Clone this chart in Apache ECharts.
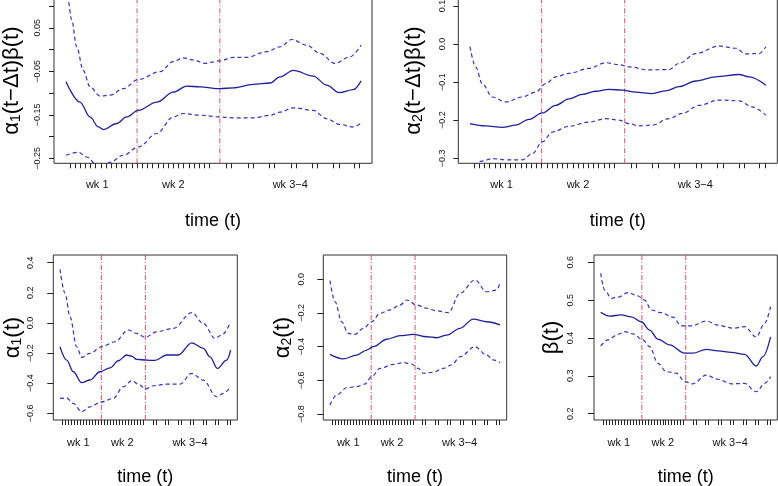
<!DOCTYPE html>
<html><head><meta charset="utf-8">
<script src="https://cdn.jsdelivr.net/npm/echarts@6/dist/echarts.min.js"></script>
<style>html,body{margin:0;padding:0;background:#fff}#c{width:778px;height:486px}</style>
</head><body><div id="c"></div>
<script>
// ---------- data ----------
// observation times (rug marks) on the time axis
const rugTimes = [0,1,2,3,4,5,6,7,8,9,10,11,12,13,14,15,16,17,18,19,20,21,22,23,24,25,26,27,
  30.2,31.2,34.4,35.4,38.6,39.6,42.7,43.7,46.9,47.9,51,52,55,56];
const weekPos = [5.3, 20, 42.6];
const weekText = ['wk 1', 'wk 2', 'wk 3−4'];
const breaksTop = [13, 29];
const breaksBottom = [13, 27.7];

// panel 1: alpha1(t - dt) beta(t)
const p1FitT = [-0.73,1.97,3.91,5.52,6.48,9.07,11.0,13.24,16.8,20.0,22.6,25.2,29.0,31.6,35.45,38.7,40.6,43.2,47.05,49.65,52.1,54.8,56.3];
const p1FitV = [-0.074,-0.121,-0.155,-0.178,-0.184,-0.170,-0.155,-0.140,-0.121,-0.098,-0.084,-0.086,-0.090,-0.088,-0.080,-0.077,-0.063,-0.048,-0.061,-0.082,-0.099,-0.092,-0.072];
const p1UpT = [-0.73,-0.3,0.37,1.34,2.6,3.91,5.84,7.77,10.34,13.24,17.43,20.0,21.9,23.9,26.13,29.0,31.6,34.2,38.05,40.6,42.9,45.8,48.35,51.25,54.1,56.3];
const p1UpV = [0.14,0.110,0.068,0.006,-0.048,-0.086,-0.107,-0.105,-0.090,-0.069,-0.051,-0.028,-0.019,-0.024,-0.032,-0.026,-0.018,-0.018,-0.005,0.006,0.023,0.010,-0.009,-0.032,-0.017,0.010];
const p1LoT = [-0.73,1.65,3.27,5.2,6.48,7.77,10.34,13.24,16.8,20.0,21.9,25.2,29.0,31.6,35.45,38.7,40.6,43.2,47.05,49.65,52.1,54.8,56.3];
const p1LoV = [-0.243,-0.236,-0.247,-0.265,-0.272,-0.259,-0.243,-0.224,-0.193,-0.155,-0.147,-0.151,-0.155,-0.157,-0.157,-0.151,-0.144,-0.134,-0.140,-0.159,-0.172,-0.178,-0.169];
const p1YTicks = [-0.25,-0.20,-0.15,-0.10,-0.05,0,0.05,0.10];
const p1YLabelVals = [-0.25,-0.15,-0.05,0.05];
const p1YLabelText = ['−0.25','−0.15','−0.05','0.05'];

// panel 2: alpha2(t - dt) beta(t)
const p2FitT = [-0.8,2.23,5.43,8.0,10.57,13.13,15.7,18.27,20.84,23.4,25.98,28.55,31.1,34.3,36.9,39.45,42.7,46.5,51.0,52.95,56.2];
const p2FitV = [-0.209,-0.215,-0.219,-0.213,-0.198,-0.181,-0.161,-0.144,-0.132,-0.124,-0.119,-0.121,-0.126,-0.130,-0.123,-0.112,-0.097,-0.086,-0.080,-0.086,-0.108];
const p2UpT = [-0.8,0.3,1.57,3.5,6.08,9.3,11.85,13.8,15.7,18.27,22.1,25.35,27.9,29.83,33.7,37.54,39.45,42.7,47.17,50.4,52.3,54.9,56.2];
const p2UpV = [-0.007,-0.060,-0.104,-0.139,-0.152,-0.139,-0.126,-0.104,-0.086,-0.077,-0.064,-0.049,-0.054,-0.060,-0.068,-0.067,-0.051,-0.025,-0.005,-0.011,-0.026,-0.025,-0.007];
const p2LoT = [-0.8,1.26,3.5,6.08,9.3,11.2,13.13,15.06,18.27,22.1,25.35,27.9,29.83,31.76,34.3,37.54,40.1,43.3,47.17,51.0,53.55,56.2];
const p2LoV = [-0.335,-0.308,-0.301,-0.304,-0.304,-0.288,-0.257,-0.231,-0.216,-0.205,-0.196,-0.200,-0.209,-0.215,-0.213,-0.196,-0.182,-0.161,-0.147,-0.149,-0.165,-0.187];
const p2YTicks = [-0.3,-0.2,-0.1,0,0.1];
const p2YLabelVals = [-0.3,-0.2,-0.1,0,0.1];
const p2YLabelText = ['−0.3','−0.2','−0.1','0.0','0.1'];

// panel 3: alpha1(t)
const p3FitT = [-0.81,1.42,3.63,6.43,9.2,12.55,15.9,18.66,21.47,23.1,24.8,28.15,30.9,34.8,38.7,43.2,47.05,49.3,51.7,54.85,56.2];
const p3FitV = [-0.158,-0.247,-0.324,-0.397,-0.379,-0.324,-0.298,-0.251,-0.213,-0.220,-0.242,-0.247,-0.249,-0.213,-0.213,-0.132,-0.169,-0.225,-0.302,-0.247,-0.180];
const p3UpT = [-0.81,0.86,2.53,4.76,6.43,9.2,13.1,17.55,22.0,24.8,27.6,31.5,37.05,43.2,47.05,50.95,53.2,56.2];
const p3UpV = [0.356,0.197,0.041,-0.158,-0.229,-0.202,-0.158,-0.125,-0.047,-0.069,-0.096,-0.059,-0.036,0.068,-0.003,-0.102,-0.080,0.008];
const p3LoT = [-0.81,1.42,3.63,6.43,9.2,13.1,17.0,20.3,23.1,25.9,27.6,30.35,34.8,39.25,43.2,47.05,51.5,53.75,56.2];
const p3LoV = [-0.501,-0.499,-0.534,-0.590,-0.557,-0.524,-0.501,-0.424,-0.384,-0.413,-0.439,-0.417,-0.406,-0.406,-0.335,-0.380,-0.490,-0.468,-0.424];
const p3YTicks = [-0.6,-0.4,-0.2,0,0.2,0.4];
const p3YLabelVals = [-0.6,-0.4,-0.2,0,0.2,0.4];
const p3YLabelText = ['−0.6','−0.4','−0.2','0.0','0.2','0.4'];

// panel 4: alpha2(t)
const p4FitT = [-0.81,3.65,8.14,11.5,13.7,18.2,22.65,27.1,31.6,34.95,38.3,42.75,47.2,51.7,56.15];
const p4FitV = [-0.446,-0.473,-0.450,-0.420,-0.400,-0.356,-0.335,-0.327,-0.341,-0.347,-0.331,-0.291,-0.236,-0.252,-0.271];
const p4UpT = [-0.81,0.87,3.11,5.32,7.57,10.35,13.15,15.95,19.3,22.65,24.9,28.25,31.6,34.95,38.85,42.75,47.75,51.7,55.05,56.15];
const p4UpV = [-0.008,-0.133,-0.252,-0.321,-0.327,-0.291,-0.252,-0.202,-0.182,-0.153,-0.123,-0.153,-0.172,-0.187,-0.198,-0.083,-0.004,-0.074,-0.064,-0.020];
const p4LoT = [-0.81,1.42,4.8,8.14,10.9,13.15,15.95,20.4,23.75,26.55,28.8,30.45,33.8,37.15,39.95,42.75,47.75,51.7,53.9,56.15];
const p4LoV = [-0.747,-0.687,-0.644,-0.638,-0.622,-0.578,-0.529,-0.505,-0.495,-0.503,-0.529,-0.558,-0.552,-0.529,-0.509,-0.460,-0.400,-0.450,-0.479,-0.495];
const p4YTicks = [-0.8,-0.6,-0.4,-0.2,0];
const p4YLabelVals = [-0.8,-0.6,-0.4,-0.2,0];
const p4YLabelText = ['−0.8','−0.6','−0.4','−0.2','0.0'];

// panel 5: beta(t)
const p5FitT = [-0.81,2.21,6.1,9.45,12.8,15.6,18.4,22.3,27.35,30.1,34.6,38.5,43.0,47.45,51.35,53.6,56.15];
const p5FitV = [0.468,0.458,0.461,0.456,0.443,0.421,0.397,0.382,0.360,0.360,0.370,0.366,0.362,0.357,0.326,0.351,0.403];
const p5UpT = [-0.81,0.52,2.75,5.0,8.35,11.7,13.95,16.15,19.5,23.45,26.2,29.55,34.6,38.5,43.55,47.45,51.35,54.2,56.15];
const p5UpV = [0.571,0.527,0.505,0.508,0.520,0.511,0.500,0.474,0.467,0.455,0.432,0.432,0.445,0.434,0.426,0.430,0.403,0.439,0.483];
const p5LoT = [-0.81,1.64,5.0,7.23,10.0,13.35,15.6,18.4,21.2,24.55,27.35,30.1,34.6,38.5,43.0,47.45,51.35,54.2,56.15];
const p5LoV = [0.379,0.395,0.410,0.417,0.411,0.395,0.377,0.333,0.311,0.307,0.285,0.279,0.302,0.291,0.279,0.280,0.258,0.280,0.298];
const p5YTicks = [0.2,0.3,0.4,0.5,0.6];
const p5YLabelVals = [0.2,0.3,0.4,0.5,0.6];
const p5YLabelText = ['0.2','0.3','0.4','0.5','0.6'];

// ---------- layout ----------
const FONT = "'Liberation Sans', Arial, Helvetica, sans-serif";
const panels = [
  {grid:{left:54, top:-2, width:318, height:165.3}, ymin:-0.2615, ymax:0.1184,
   ticks:p1YTicks, lv:p1YLabelVals, lt:p1YLabelText, breaks:breaksTop, yMargin:12, yTick:5,
   name:'{g|α}{s|1}{g|(t−Δt)β(t)}', nameGap:31, xNameGap:49, wkMargin:16,
   fit:[p1FitT,p1FitV], up:[p1UpT,p1UpV], lo:[p1LoT,p1LoV]},
  {grid:{left:458.3, top:-2, width:319, height:165.3}, ymin:-0.3132, ymax:0.121,
   ticks:p2YTicks, lv:p2YLabelVals, lt:p2YLabelText, breaks:breaksTop, yMargin:11, yTick:5,
   name:'{g|α}{s|2}{g|(t−Δt)β(t)}', nameGap:33, xNameGap:49, wkMargin:16,
   fit:[p2FitT,p2FitV], up:[p2UpT,p2UpV], lo:[p2LoT,p2LoV]},
  {grid:{left:53.3, top:255, width:184, height:165}, ymin:-0.6445, ymax:0.451,
   ticks:p3YTicks, lv:p3YLabelVals, lt:p3YLabelText, breaks:breaksBottom, yMargin:18, yTick:6,
   name:'{g|α}{s|1}{g|(t)}', nameGap:29, xNameGap:48, wkMargin:17,
   fit:[p3FitT,p3FitV], up:[p3UpT,p3UpV], lo:[p3LoT,p3LoV]},
  {grid:{left:323.3, top:255, width:183.4, height:165}, ymin:-0.8356, ymax:0.1444,
   ticks:p4YTicks, lv:p4YLabelVals, lt:p4YLabelText, breaks:breaksBottom, yMargin:17, yTick:6,
   name:'{g|α}{s|2}{g|(t)}', nameGap:29, xNameGap:48, wkMargin:17,
   fit:[p4FitT,p4FitV], up:[p4UpT,p4UpV], lo:[p4LoT,p4LoV]},
  {grid:{left:594, top:255, width:183.3, height:165}, ymin:0.1834, ymax:0.6193,
   ticks:p5YTicks, lv:p5YLabelVals, lt:p5YLabelText, breaks:breaksBottom, yMargin:19, yTick:6,
   name:'{g|β(t)}', nameGap:31, xNameGap:48, wkMargin:17,
   fit:[p5FitT,p5FitV], up:[p5UpT,p5UpV], lo:[p5LoT,p5LoV]}
];

const pairs = (T, V) => T.map((t, i) => [t, V[i]]);
const grids = [], xAxes = [], yAxes = [], series = [];
panels.forEach((p, i) => {
  grids.push(Object.assign({show:true, borderColor:'#333', borderWidth:1, backgroundColor:'transparent',
    containLabel:false, outerBoundsMode:'none'}, p.grid));
  xAxes.push({
    gridIndex:i, type:'value', min:-3.05, max:58.4,
    axisLine:{show:false, onZero:false}, splitLine:{show:false},
    axisTick:{show:true, customValues:rugTimes, length:5, inside:false, lineStyle:{color:'#222', width:1}},
    axisLabel:{show:true, customValues:weekPos, margin:p.wkMargin, fontSize:11, fontFamily:FONT, color:'#111',
      formatter:(v) => { const k = weekPos.findIndex(w => Math.abs(w - v) < 1e-6); return k >= 0 ? weekText[k] : ''; }},
    name:'time (t)', nameLocation:'middle', nameGap:p.xNameGap, nameMoveOverlap:false,
    nameTextStyle:{fontSize:18, fontFamily:FONT, color:'#000'}
  });
  yAxes.push({
    gridIndex:i, type:'value', min:p.ymin, max:p.ymax,
    axisLine:{show:false, onZero:false}, splitLine:{show:false},
    axisTick:{show:true, customValues:p.ticks, length:p.yTick, inside:false, lineStyle:{color:'#222', width:1}},
    axisLabel:{show:true, customValues:p.lv, rotate:90, margin:p.yMargin, fontSize:9, fontFamily:FONT, color:'#111',
      formatter:(v) => { const k = p.lv.findIndex(w => Math.abs(w - v) < 1e-9); return k >= 0 ? p.lt[k] : ''; }},
    name:p.name, nameLocation:'middle', nameRotate:90, nameGap:p.nameGap, nameMoveOverlap:false,
    nameTextStyle:{fontSize:22, fontFamily:FONT, color:'#000',
      rich:{g:{fontSize:22, fontFamily:FONT, color:'#000'}, s:{fontSize:14, fontFamily:FONT, color:'#000', verticalAlign:'bottom'}}}
  });
  const common = {type:'line', xAxisIndex:i, yAxisIndex:i, showSymbol:false, symbol:'none',
    smooth:0.35, smoothMonotone:'x', clip:true, silent:true};
  // week-boundary reference lines
  p.breaks.forEach(b => {
    series.push({type:'line', xAxisIndex:i, yAxisIndex:i, showSymbol:false, symbol:'none', silent:true, z:1,
      data:[[b, p.ymin], [b, p.ymax]], lineStyle:{color:'#E0506A', width:1, type:[5,2,1,2]}});
  });
  series.push(Object.assign({}, common, {
    data:pairs(p.fit[0], p.fit[1]), z:3,
    lineStyle:{color:'#1f1f9e', width:1.3, type:'solid'}
  }));
  series.push(Object.assign({}, common, {data:pairs(p.up[0], p.up[1]), z:2, lineStyle:{color:'#3333c4', width:1.2, type:[4,3]}}));
  series.push(Object.assign({}, common, {data:pairs(p.lo[0], p.lo[1]), z:2, lineStyle:{color:'#3333c4', width:1.2, type:[4,3]}}));
});

const chart = echarts.init(document.getElementById('c'), null, {renderer:'canvas'});
chart.setOption({animation:false, backgroundColor:'#fff', grid:grids, xAxis:xAxes, yAxis:yAxes, series:series});
</script>
</body></html>
